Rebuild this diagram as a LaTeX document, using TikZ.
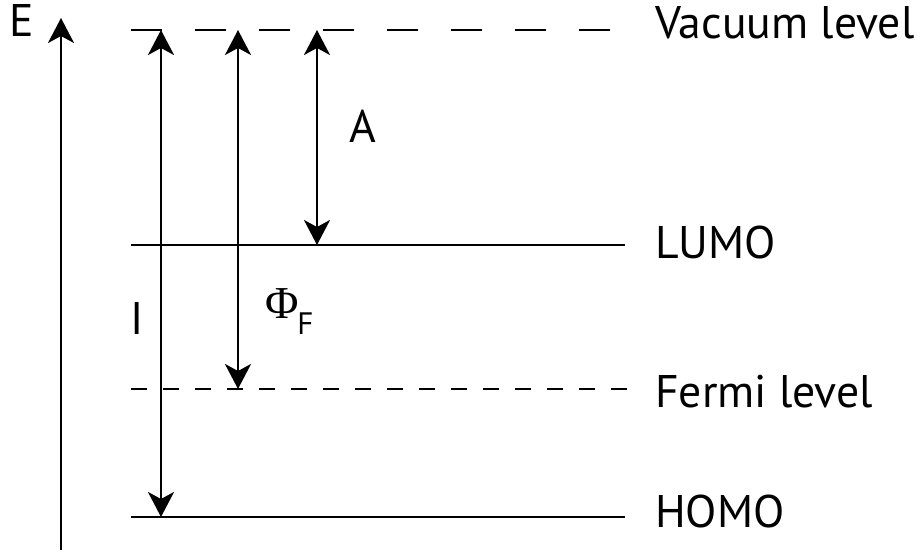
\documentclass[tikz,border=0pt]{standalone}
\usepackage{fontspec}
\setmainfont{PT Sans}
\newfontfamily\greekfont{Liberation Serif}
\usetikzlibrary{arrows.meta}
\begin{document}
\begin{tikzpicture}[x=1pt,y=-1pt,
  lw/.style={line width=2.4pt},
  tip/.style={-{Stealth[length=25pt,width=26pt,inset=7pt]}},
  dtip/.style={{Stealth[length=25pt,width=26pt,inset=7pt]}-{Stealth[length=25pt,width=26pt,inset=7pt]}},
  lbl/.style={inner sep=0pt,anchor=base west,font=\fontsize{45.7}{50}\selectfont},
  sym/.style={inner sep=0pt,font=\fontsize{45.7}{50}\selectfont}]
\useasboundingbox (0,0) rectangle (922,554);
% levels
\coordinate (vacL) at (131,30);  \coordinate (vacR) at (612,30);
\coordinate (lumoL) at (131,245); \coordinate (lumoR) at (625,245);
\coordinate (ferL) at (131,389); \coordinate (ferR) at (627,389);
\coordinate (homoL) at (131,517); \coordinate (homoR) at (625,517);
\draw[lw,dash pattern=on 31pt off 33pt] (vacL) -- (vacR);
\draw[lw] (lumoL) -- (lumoR);
\draw[lw,dash pattern=on 16pt off 16pt] (ferL) -- (ferR);
\draw[lw] (homoL) -- (homoR);
% axis
\coordinate (ax0) at (61,550); \coordinate (ax1) at (61,18);
\draw[lw,tip] (ax0) -- (ax1);
\node[sym] (E) at (22,21) {E};
% arrows
\coordinate (Itop) at (161,30); \coordinate (Ibot) at (161,517);
\coordinate (Ftop) at (238,30); \coordinate (Fbot) at (238,389);
\coordinate (Atop) at (317,30); \coordinate (Abot) at (317,245);
\draw[lw,dtip] (Itop) -- (Ibot);
\draw[lw,dtip] (Ftop) -- (Fbot);
\draw[lw,dtip] (Atop) -- (Abot);
\node[sym] (A) at (363,126) {A};
\node[sym] (I) at (137,319) {I};
\node[sym] (Phi) at (282,304) {\greekfont Φ};
\node[inner sep=0pt,font=\fontsize{31}{34}\selectfont] (Fsub) at (305.5,324) {F};
% labels
\node[lbl] (vac) at (655,38) {Vacuum level};
\node[lbl] (lumo) at (655,258) {LUMO};
\node[lbl] (fermi) at (655,407) {Fermi level};
\node[lbl] (homo) at (655,527) {HOMO};
\end{tikzpicture}
\end{document}
